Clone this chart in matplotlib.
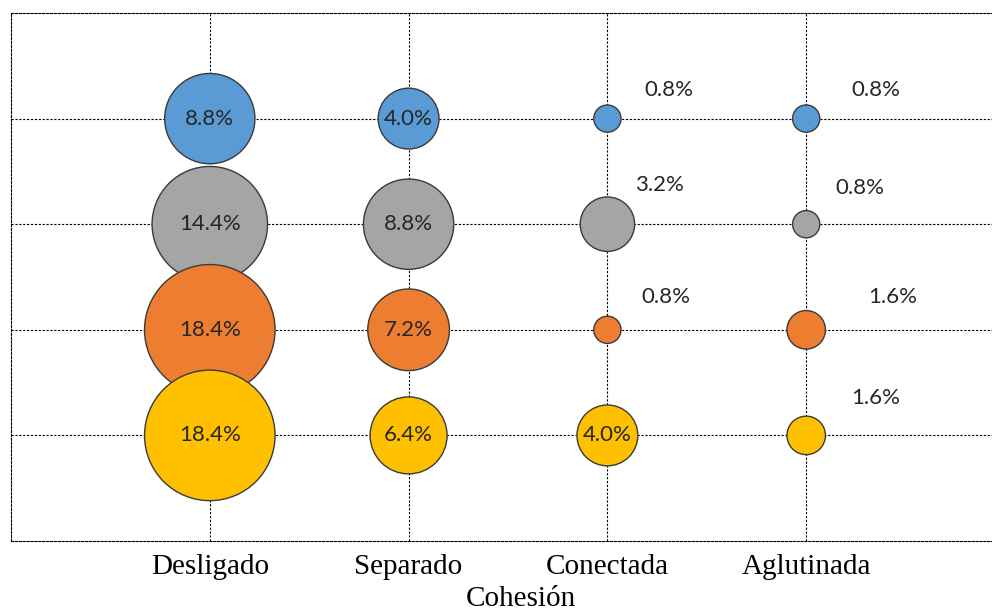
import matplotlib
matplotlib.use("Agg")
import matplotlib.pyplot as plt

# Cohesión categories (x) and the four series (rows, bottom to top: yellow, orange, gray, blue)
categories = ["Desligado", "Separado", "Conectada", "Aglutinada"]
blue_vals = [8.8, 4.0, 0.8, 0.8]
gray_vals = [14.4, 8.8, 3.2, 0.8]
orange_vals = [18.4, 7.2, 0.8, 1.6]
yellow_vals = [18.4, 6.4, 4.0, 1.6]

series = [
    (blue_vals, 4, "#5B9BD5"),
    (gray_vals, 3, "#A5A5A5"),
    (orange_vals, 2, "#ED7D31"),
    (yellow_vals, 1, "#FFC000"),
]

# label offsets (pixels) for the small bubbles whose labels sit outside
outside_offsets = {
    (4, 2): (61, 29), (4, 3): (70, 29),
    (3, 2): (52, 39), (3, 3): (54, 36),
    (2, 2): (58, 33), (2, 3): (87, 33),
    (1, 3): (70, 37),
}

SIZE_SCALE = 480  # points^2 per percent
LABEL_FONT = dict(fontsize=16, family="Lato", color="#262626")

fig = plt.figure(figsize=(9.92, 6.12), dpi=100)
ax = fig.add_axes([11 / 992, 71 / 612, 994 / 992, 528 / 612])

x = list(range(1, len(categories) + 1))
for vals, row, color in series:
    ax.scatter(x, [row] * len(x), s=[v * SIZE_SCALE for v in vals], color=color,
               edgecolor="#3a3a3a", linewidth=1.0, zorder=3)
    for i, v in enumerate(vals):
        off = outside_offsets.get((row, i), (0, 0))
        ax.annotate(f"{v:.1f}%", (x[i], row), xytext=off, textcoords="offset pixels",
                    ha="center", va="center", zorder=5, **LABEL_FONT)

ax.set_xlim(0, 5)
ax.set_ylim(0, 5)
ax.set_xticks(x)
ax.set_xticklabels(categories, family="Liberation Serif", fontsize=21)
ax.set_yticks([1, 2, 3, 4])
ax.set_yticklabels([])
ax.tick_params(length=0, pad=9)
ax.grid(True, color="black", linestyle=(0, (2, 1.5)), linewidth=0.8, zorder=0)
ax.set_axisbelow(True)
for sp in ax.spines.values():
    sp.set_linestyle((0, (2, 1.5)))
    sp.set_linewidth(0.8)
ax.spines["right"].set_visible(False)
ax.set_xlabel("Cohesión", family="Liberation Serif", fontsize=21)
ax.xaxis.set_label_coords(0.513, -0.085)
ax.xaxis.label.set_va("top")

fig.savefig("out.png", dpi=100)
